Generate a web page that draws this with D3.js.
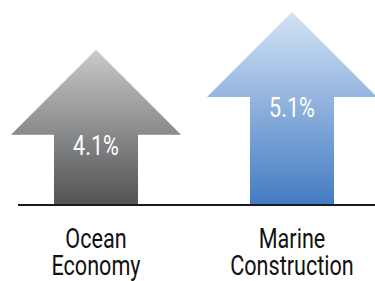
<!DOCTYPE html>
<html>
<head>
<meta charset="utf-8">
<script src="https://cdn.jsdelivr.net/npm/d3@7"></script>
<style>
  html, body { margin: 0; padding: 0; background: #fff; }
  svg { display: block; }
  .lbl { font-family: Roboto, "Noto Sans", sans-serif; }
</style>
</head>
<body>
<svg id="chart" width="375" height="281"></svg>
<script>
// growth rates shown on the arrows
const categories = ['Ocean Economy', 'Marine Construction'];
const labelLines = [['Ocean', 'Economy'], ['Marine', 'Construction']];
const values = [4.1, 5.1];
const valueLabels = ['4.1%', '5.1%'];
const gradStops = [
  ['#c9cacc', '#525355'],
  ['#d4e3f5', '#447cc3'],
];

const width = 375, height = 281;
const baseY = 204;
const shaftW = 84, headW = 170, headH = 85;
const squeeze = 0.8; // no condensed face installed, so narrow the text

const svg = d3.select('#chart');

const x = d3.scaleBand().domain(categories).range([-2, 390]);
const y = d3.scaleLinear().domain([0, 5.1]).range([baseY, 12]);
const cx = c => x(c) + x.bandwidth() / 2;

const defs = svg.append('defs');
categories.forEach((c, i) => {
  const g = defs.append('linearGradient')
      .attr('id', 'grad' + i)
      .attr('x1', 0).attr('y1', 0).attr('x2', 0).attr('y2', 1);
  g.append('stop').attr('offset', '0%').attr('stop-color', gradStops[i][0]);
  g.append('stop').attr('offset', '100%').attr('stop-color', gradStops[i][1]);
});

// arrow outline: tip at the value, head then shaft down to baseline
function arrowPath(mx, v) {
  const top = y(v);
  const p = d3.path();
  p.moveTo(mx, top);
  p.lineTo(mx + headW / 2, top + headH);
  p.lineTo(mx + shaftW / 2, top + headH);
  p.lineTo(mx + shaftW / 2, y(0));
  p.lineTo(mx - shaftW / 2, y(0));
  p.lineTo(mx - shaftW / 2, top + headH);
  p.lineTo(mx - headW / 2, top + headH);
  p.closePath();
  return p.toString();
}

const arrows = svg.selectAll('g.arrow')
    .data(categories)
    .join('g')
    .attr('class', 'arrow');

arrows.append('path')
    .attr('d', (c, i) => arrowPath(cx(c), values[i]))
    .attr('fill', (c, i) => 'url(#grad' + i + ')');

arrows.append('text')
    .attr('class', 'lbl')
    .attr('transform', (c, i) =>
        `translate(${cx(c)},${y(values[i]) + headH + 20}) scale(${squeeze},1)`)
    .attr('text-anchor', 'middle')
    .attr('fill', '#fff')
    .attr('font-size', 27)
    .text((c, i) => valueLabels[i]);

// baseline
svg.append('line')
    .attr('x1', 18).attr('x2', width)
    .attr('y1', y(0) + 1).attr('y2', y(0) + 1)
    .attr('stroke', '#1a1a1a')
    .attr('stroke-width', 2);

// category labels under the baseline
const cat = svg.selectAll('text.cat')
    .data(categories)
    .join('text')
    .attr('class', 'cat lbl')
    .attr('transform', c => `translate(${cx(c)},0) scale(${squeeze},1)`)
    .attr('text-anchor', 'middle')
    .attr('fill', '#111')
    .attr('font-size', 27);

cat.selectAll('tspan')
    .data((c, i) => labelLines[i])
    .join('tspan')
    .attr('x', 0)
    .attr('y', (d, j) => 248 + j * 27)
    .text(d => d);
</script>
</body>
</html>
